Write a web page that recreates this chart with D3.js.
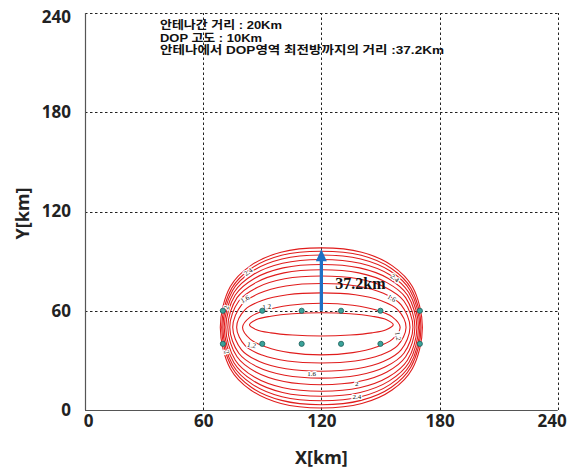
<!DOCTYPE html>
<html>
<head>
<meta charset="utf-8">
<script src="https://cdn.jsdelivr.net/npm/d3@7"></script>
<style>
  body { margin: 0; background: #fff; }
  svg { display: block; }
</style>
</head>
<body>
<svg id="chart" width="578" height="469"></svg>
<script>
// Axis ticks (km)
const xTicks = [0, 60, 120, 180, 240];
const yTicks = [0, 60, 120, 180, 240];

// Antenna grid: 20 km spacing, two rows
const antennaX = [70, 90, 110, 130, 150, 170];
const antennaY = [40, 60];

// DOP contour levels and their traced outlines, [x km, y km]
const contourLevels = [1.0, 1.2, 1.4, 1.6, 1.8, 2.0, 2.2, 2.4, 2.6, 2.8, 3.0];
const dop10 = [[120,58.8],[134.6,58.2],[145.6,56.7],[152.9,54.7],[156.5,51.5],[152.9,48.5],[145.6,46.6],[134.6,45.3],[120,44.7],[105.4,45.3],[94.4,46.6],[87.1,48.5],[83.5,51.5],[87.1,54.7],[94.4,56.7],[105.4,58.2]];
const dop12 = [[120,64.5],[136,63.3],[148,60.4],[156,56.3],[160,50],[156,42.7],[148,38.1],[136,34.7],[120,33.3],[104,34.7],[92,38.1],[84,42.7],[80,50],[84,56.3],[92,60.4],[104,63.3]];
const dop14 = [[120,70.8],[137.2,69.7],[150.1,66.2],[158.7,60.7],[163,50],[158.7,38.9],[150.1,33.2],[137.2,29.6],[120,28.4],[102.8,29.6],[89.9,33.2],[81.3,38.9],[77,50],[81.3,60.7],[89.9,66.2],[102.8,69.7]];
const dop16 = [[120,76.5],[138,75.0],[151.5,70.6],[160.5,63.6],[165,50],[160.5,36.4],[151.5,29.3],[138,24.9],[120,23.4],[102,24.9],[88.5,29.3],[79.5,36.4],[75,50],[79.5,63.6],[88.5,70.6],[102,75.0]];
const dop18 = [[120,81.0],[138.6,79.3],[152.6,74.1],[161.9,65.9],[166.5,50],[161.9,34.3],[152.6,26.1],[138.6,21.0],[120,19.3],[101.4,21.0],[87.4,26.1],[78.1,34.3],[73.5,50],[78.1,65.9],[87.4,74.1],[101.4,79.3]];
const dop20 = [[120,84.8],[139,82.9],[153.3,77.0],[162.8,67.9],[167.5,50],[162.8,32.2],[153.3,23.0],[139,17.2],[120,15.3],[101,17.2],[86.7,23.0],[77.2,32.2],[72.5,50],[77.2,67.9],[86.7,77.0],[101,82.9]];
const dop22 = [[120,88.0],[139.4,85.9],[154,79.5],[163.7,69.5],[168.5,50],[163.7,30.1],[154,19.9],[139.4,13.4],[120,11.3],[100.6,13.4],[86,19.9],[76.3,30.1],[71.5,50],[76.3,69.5],[86,79.5],[100.6,85.9]];
const dop24 = [[120,91.0],[139.7,88.7],[154.5,81.9],[164.4,71.0],[169.3,50],[164.4,28.6],[154.5,17.6],[139.7,10.6],[120,8.3],[100.3,10.6],[85.5,17.6],[75.6,28.6],[70.7,50],[75.6,71.0],[85.5,81.9],[100.3,88.7]];
const dop26 = [[120,93.7],[140,91.3],[155,84.0],[165,72.4],[170,50],[165,27.2],[155,15.5],[140,8.0],[120,5.6],[100,8.0],[85,15.5],[75,27.2],[70,50],[75,72.4],[85,84.0],[100,91.3]];
const dop28 = [[120,96.0],[140.2,93.5],[155.4,85.7],[165.5,73.6],[170.6,50],[165.5,26.0],[155.4,13.6],[140.2,5.8],[120,3.2],[99.8,5.8],[84.6,13.6],[74.5,26.0],[69.4,50],[74.5,73.6],[84.6,85.7],[99.8,93.5]];
const dop30 = [[120,98.0],[140.5,95.4],[155.9,87.3],[166.2,74.6],[171.3,50],[166.2,25.0],[155.9,12.1],[140.5,3.9],[120,1.2],[99.5,3.9],[84.1,12.1],[73.8,25.0],[68.7,50],[73.8,74.6],[84.1,87.3],[99.5,95.4]];
const contourLines = [dop10, dop12, dop14, dop16, dop18, dop20, dop22, dop24, dop26, dop28, dop30];

// Inline contour labels: text, x km, y km, rotation
const labelText  = ["2.4", "1.6", "1.2", "2.4", "1.6", "1.2", "1.2", "1.6", "2", "2.4", "2", "2"];
const labelX     = [82.8, 81.2, 92.3, 157.4, 155.7, 159.0, 84.6, 115.1, 138, 138, 71.6, 72.0];
const labelY     = [83.6, 67.1, 62.5, 79.8, 67.7, 44.7, 39.3, 22.2, 15.8, 8.0, 62.0, 35.0];
const labelAngle = [-35, -30, -8, 40, 30, 80, 12, 0, 0, 0, -75, 75];

// Range arrow from the antenna row to the front edge of the DOP area
const arrowBaseY = 60;
const arrowLength = 37.2;
const arrowX = 120;

const infoLines = [
  "안테나간 거리 : 20Km",
  "DOP 고도 : 10Km",
  "안테나에서 DOP영역 최전방까지의 거리 :37.2Km"
];

// ---------------------------------------------------------------
const svg = d3.select("#chart");
const margin = { left: 85, right: 20.3, top: 13, bottom: 59 };
const W = 578, H = 469;
const x = d3.scaleLinear().domain([0, 240]).range([margin.left, W - margin.right]);
const y = d3.scaleLinear().domain([0, 240]).range([H - margin.bottom, margin.top]);

svg.append("rect").attr("width", W).attr("height", H).attr("fill", "#fff");

// dashed grid (also forms the top and right frame)
const grid = svg.append("g").attr("stroke", "#222").attr("stroke-width", 1)
  .attr("stroke-dasharray", "2.5,2.5").attr("fill", "none");
grid.selectAll("line.v").data(xTicks.filter(d => d > 0)).join("line")
  .attr("x1", d => Math.round(x(d)) + 0.5).attr("x2", d => Math.round(x(d)) + 0.5)
  .attr("y1", y(0)).attr("y2", y(240));
grid.selectAll("line.h").data(yTicks.filter(d => d > 0)).join("line")
  .attr("y1", d => Math.round(y(d)) + 0.5).attr("y2", d => Math.round(y(d)) + 0.5)
  .attr("x1", x(0)).attr("x2", x(240));

// contour lines
const line = d3.line()
  .x(d => x(d[0])).y(d => y(d[1]))
  .curve(d3.curveCatmullRomClosed.alpha(0.5));
svg.append("g").selectAll("path").data(contourLines).join("path")
  .attr("d", line)
  .attr("fill", "none")
  .attr("stroke", "#e01c1c")
  .attr("stroke-width", 1.1);

// contour labels
svg.append("g").selectAll("text").data(labelText).join("text")
  .attr("transform", (d, i) => `translate(${x(labelX[i])},${y(labelY[i])}) rotate(${labelAngle[i]})`)
  .attr("text-anchor", "middle")
  .attr("dy", "0.35em")
  .attr("font-family", "'Liberation Serif', 'DejaVu Serif', serif")
  .attr("font-size", 7)
  .attr("fill", "#111")
  .attr("stroke", "#fff").attr("stroke-width", 2.2)
  .attr("paint-order", "stroke")
  .text(d => d);

// antennas
const antennas = d3.cross(antennaX, antennaY);
svg.append("g").selectAll("circle").data(antennas).join("circle")
  .attr("cx", d => x(d[0])).attr("cy", d => y(d[1]))
  .attr("r", 2.6)
  .attr("fill", "#3aa39a")
  .attr("stroke", "#1d5e5a")
  .attr("stroke-width", 0.8);

// range arrow
const tipY = y(arrowBaseY + arrowLength);
const headH = 12, headW = 11;
svg.append("line")
  .attr("x1", x(arrowX)).attr("x2", x(arrowX))
  .attr("y1", y(arrowBaseY)).attr("y2", tipY + headH - 1)
  .attr("stroke", "#1f6fc4").attr("stroke-width", 3.3);
svg.append("path")
  .attr("d", `M${x(arrowX)},${tipY} L${x(arrowX) + headW / 2},${tipY + headH} L${x(arrowX) - headW / 2},${tipY + headH} Z`)
  .attr("fill", "#1f6fc4");
svg.append("text")
  .attr("x", x(arrowX) + 14).attr("y", y(arrowBaseY + arrowLength / 2) + 9)
  .attr("font-family", "'Liberation Serif', 'DejaVu Serif', serif")
  .attr("font-weight", "bold")
  .attr("font-size", 16)
  .attr("fill", "#111")
  .text(arrowLength + "km");

// axes lines
svg.append("line").attr("x1", x(0) + 0.5).attr("x2", x(0) + 0.5).attr("y1", y(240)).attr("y2", y(0))
  .attr("stroke", "#555").attr("stroke-width", 1.2);
svg.append("line").attr("x1", x(0)).attr("x2", x(240)).attr("y1", y(0) + 0.5).attr("y2", y(0) + 0.5)
  .attr("stroke", "#555").attr("stroke-width", 1.2);

const tickFont = "'Noto Sans', 'Open Sans', sans-serif";
const xAxis = svg.append("g").attr("transform", `translate(0,${y(0)})`)
  .call(d3.axisBottom(x).tickValues(xTicks).tickSize(0).tickPadding(5).tickFormat(d3.format("d")));
const yAxis = svg.append("g").attr("transform", `translate(${x(0)},0)`)
  .call(d3.axisLeft(y).tickValues(yTicks).tickSize(0).tickPadding(14).tickFormat(d3.format("d")));
[xAxis, yAxis].forEach(a => {
  a.select(".domain").remove();
  a.selectAll("text")
    .attr("font-family", tickFont)
    .attr("font-weight", "bold")
    .attr("font-size", 17)
    .attr("fill", "#222");
});
xAxis.selectAll("text").attr("dx", d => d === 0 ? 3 : d === 240 ? -6 : 0);
yAxis.selectAll("text").attr("dy", d => d === 240 ? "0.58em" : "0.32em");

// axis titles
svg.append("text")
  .attr("x", x(120)).attr("y", 464)
  .attr("text-anchor", "middle")
  .attr("font-family", tickFont).attr("font-weight", "bold").attr("font-size", 18)
  .attr("fill", "#222")
  .text("X[km]");
svg.append("text")
  .attr("transform", `translate(29,${y(120) + 2}) rotate(-90)`)
  .attr("text-anchor", "middle")
  .attr("font-family", tickFont).attr("font-weight", "bold").attr("font-size", 18)
  .attr("fill", "#222")
  .text("Y[km]");

// parameter notes
const infoWidths = [122, 102, 284];
const infoBase = [29, 41.5, 54];
svg.append("g").selectAll("text").data(infoLines).join("text")
  .attr("x", 160)
  .attr("y", (d, i) => infoBase[i])
  .attr("font-family", "'Liberation Sans', 'Noto Sans CJK KR', sans-serif")
  .attr("font-weight", "bold")
  .attr("font-size", 11.5)
  .attr("fill", "#111")
  .attr("textLength", (d, i) => infoWidths[i])
  .attr("lengthAdjust", "spacingAndGlyphs")
  .text(d => d);
</script>
</body>
</html>
